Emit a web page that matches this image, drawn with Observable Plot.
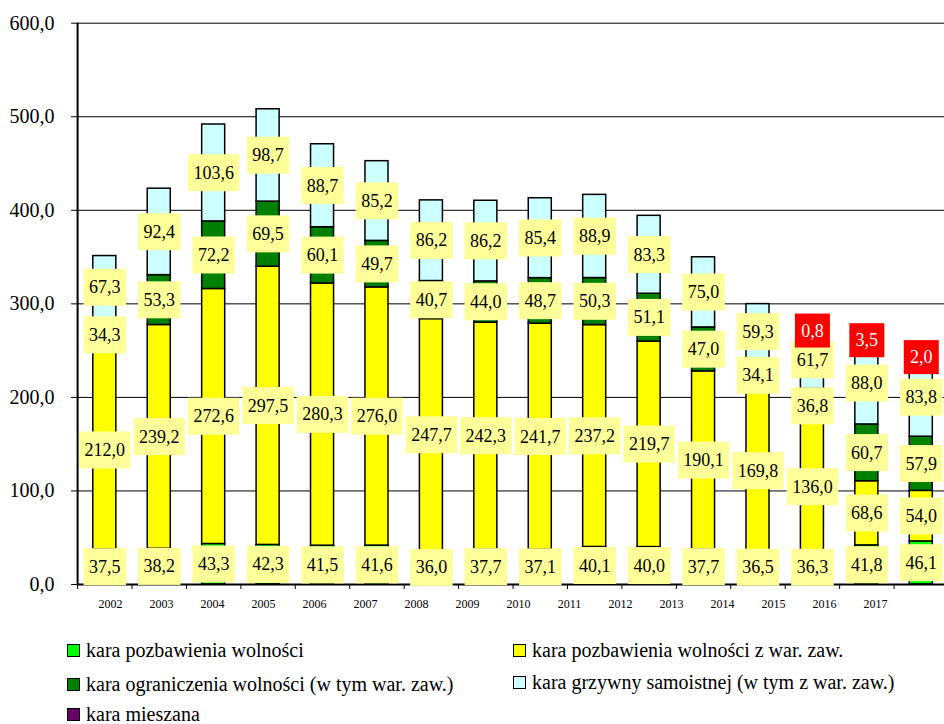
<!DOCTYPE html>
<html>
<head>
<meta charset="utf-8">
<script src="https://cdn.jsdelivr.net/npm/d3@7"></script>
<script src="https://cdn.jsdelivr.net/npm/@observablehq/plot@0.6"></script>
<style>
  body { margin: 0; background: #fff; font-family: "Liberation Serif", "DejaVu Serif", serif; }
  #chart { position: relative; width: 944px; height: 724px; overflow: hidden; }
  #chart svg { display: block; overflow: visible; }
  .item { position: absolute; display: flex; align-items: center; height: 20px; font-size: 20px; white-space: nowrap; color: #000; }
  .sw { width: 11px; height: 11px; border: 1px solid #000; margin-right: 6px; flex: none; }
</style>
</head>
<body>
<div id="chart"></div>
<script>
// Years shown on the category axis
const years = ["2002", "2003", "2004", "2005", "2006", "2007", "2008", "2009",
               "2010", "2011", "2012", "2013", "2014", "2015", "2016", "2017"];

// Series names (legend order = stacking order, bottom to top)
const seriesNames = [
  "kara pozbawienia wolności",
  "kara pozbawienia wolności z war. zaw.",
  "kara ograniczenia wolności (w tym war. zaw.)",
  "kara grzywny samoistnej (w tym z war. zaw.)",
  "kara mieszana"
];
const seriesColors = ["#00ff00", "#ffff00", "#008000", "#ccffff", "#660066"];

// Values per series (thousands)
const pozbawienia = [37.5, 38.2, 43.3, 42.3, 41.5, 41.6, 36.0, 37.7, 37.1, 40.1, 40.0, 37.7, 36.5, 36.3, 41.8, 46.1];
const pozbawieniaZaw = [212.0, 239.2, 272.6, 297.5, 280.3, 276.0, 247.7, 242.3, 241.7, 237.2, 219.7, 190.1, 169.8, 136.0, 68.6, 54.0];
const ograniczenia = [34.3, 53.3, 72.2, 69.5, 60.1, 49.7, 40.7, 44.0, 48.7, 50.3, 51.1, 47.0, 34.1, 36.8, 60.7, 57.9];
const grzywna = [67.3, 92.4, 103.6, 98.7, 88.7, 85.2, 86.2, 86.2, 85.4, 88.9, 83.3, 75.0, 59.3, 61.7, 88.0, 83.8];
const mieszana = [0, 0, 0, 0, 0, 0, 0, 0, 0, 0, 0, 0, 0, 0.8, 3.5, 2.0];

// Y axis ticks
const yTicks = [0, 100, 200, 300, 400, 500, 600];

const seriesValues = [pozbawienia, pozbawieniaZaw, ograniczenia, grzywna, mieszana];
const mixedName = seriesNames[4];

// Long table, series by series, so labels of later series are drawn on top
const rows = [];
seriesValues.forEach((vals, s) => {
  vals.forEach((v, i) => {
    if (v > 0) rows.push({i, year: years[i], series: seriesNames[s], value: v});
  });
});

const fmt = v => v.toFixed(1).replace(".", ",");
const serif = '"Liberation Serif", "DejaVu Serif", serif';

const chart = Plot.plot({
  width: 944,
  height: 592,
  marginLeft: 77.1,
  marginRight: -4,
  marginTop: 22.7,
  marginBottom: 8,
  style: {fontFamily: serif, fontSize: "18px", color: "#000", background: "transparent"},
  x: {type: "linear", domain: [0, years.length]},
  y: {domain: [0, 600]},
  color: {domain: seriesNames, range: seriesColors},
  marks: [
    Plot.gridY(yTicks, {stroke: "#000", strokeOpacity: 1, strokeWidth: 1}),
    Plot.rect(rows, Plot.stackY({
      x1: d => d.i, x2: d => d.i + 1, y: "value",
      fill: "series", stroke: "#000", strokeWidth: 1.5,
      insetLeft: 15.7, insetRight: 15.7
    })),
    Plot.ruleY([0], {stroke: "#000", strokeWidth: 2}),
    Plot.ruleX([0], {stroke: "#000", strokeWidth: 2}),
    Plot.axisY({ticks: yTicks, tickSize: 6, tickPadding: 17, tickFormat: fmt, fontSize: 20, fontFamily: serif, label: null}),
    Plot.axisX({ticks: d3.range(0, years.length + 1), tickSize: 5, tickFormat: () => "", label: null}),
    // value labels for the four main series
    Plot.text(rows, Plot.stackY({
      x: d => d.i + 0.5, y: "value",
      text: d => d.series === mixedName ? null : fmt(d.value),
      fill: "#000", fontSize: 18, fontFamily: serif
    })),
    // value labels for mixed penalties
    Plot.text(rows, Plot.stackY({
      x: d => d.i + 0.5, y: "value",
      text: d => d.series === mixedName ? fmt(d.value) : null,
      fill: "#fff", fontSize: 18, fontFamily: serif
    }))
  ]
});

// Year labels on their own band axis
const yearAxis = Plot.plot({
  width: 944,
  height: 28,
  marginLeft: 77.4,
  marginRight: 36.8,
  marginTop: 0,
  marginBottom: 28,
  style: {fontFamily: serif, color: "#000", background: "transparent"},
  x: {type: "band", domain: years, label: null},
  marks: [Plot.axisX({tickSize: 0, tickPadding: 6.5, fontSize: 12, fontFamily: serif, label: null})]
});

const root = document.getElementById("chart");
root.appendChild(chart);
root.appendChild(yearAxis);

// Opaque boxes behind the value labels
function addBoxes(group, fill, padX, h) {
  if (!group) return;
  group.querySelectorAll("text").forEach(t => {
    if (!t.textContent.trim()) return;
    const b = t.getBBox();
    const r = document.createElementNS("http://www.w3.org/2000/svg", "rect");
    const cy = b.y + b.height / 2;
    r.setAttribute("x", b.x - padX);
    r.setAttribute("width", b.width + 2 * padX);
    r.setAttribute("y", cy - h / 2);
    r.setAttribute("height", h);
    r.setAttribute("fill", fill);
    r.setAttribute("stroke", "none");
    const tr = t.getAttribute("transform");
    if (tr) r.setAttribute("transform", tr);
    t.parentNode.insertBefore(r, t);
  });
}
const textGroups = chart.querySelectorAll('g[aria-label="text"]');
addBoxes(textGroups[0], "#ffff99", 5.5, 37);
addBoxes(textGroups[1], "#ff0000", 6.25, 34);

// Legend
const legendPos = [
  {left: 67, top: 640},
  {left: 513, top: 640},
  {left: 67, top: 674},
  {left: 513, top: 672},
  {left: 67, top: 704}
];
seriesNames.forEach((name, k) => {
  const item = document.createElement("div");
  item.className = "item";
  item.style.left = legendPos[k].left + "px";
  item.style.top = legendPos[k].top + "px";
  const sw = document.createElement("span");
  sw.className = "sw";
  sw.style.background = seriesColors[k];
  const label = document.createElement("span");
  label.textContent = name;
  item.appendChild(sw);
  item.appendChild(label);
  root.appendChild(item);
});
</script>
</body>
</html>
